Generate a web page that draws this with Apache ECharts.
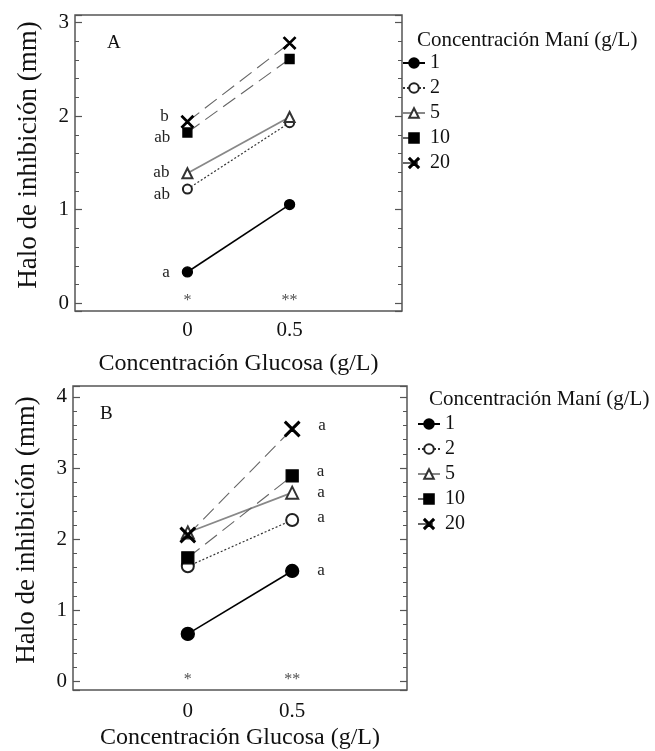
<!DOCTYPE html>
<html>
<head>
<meta charset="utf-8">
<script src="https://cdn.jsdelivr.net/npm/echarts@6/dist/echarts.min.js"></script>
<style>
  html, body { margin: 0; padding: 0; background: #fff; }
  #chart { width: 655px; height: 751px; }
</style>
</head>
<body>
<div id="chart"></div>
<script>
// glucosa (g/L) en el eje x
const glucosa = [0, 0.5]
// concentraciones de maní (g/L) -> nombres de serie
const mani = ['1', '2', '5', '10', '20']

// panel A: halo de inhibición (mm)
const haloA_1 = [0.335, 1.055]
const haloA_2 = [1.22, 1.93]
const haloA_5 = [1.39, 1.99]
const haloA_10 = [1.825, 2.61]
const haloA_20 = [1.94, 2.78]
const letrasA = ['a', 'ab', 'ab', 'ab', 'b'] // en glucosa 0

// panel B
const haloB_1 = [0.67, 1.555]
const haloB_2 = [1.62, 2.27]
const haloB_5 = [2.095, 2.655]
const haloB_10 = [1.74, 2.89]
const haloB_20 = [2.06, 3.55]
const letrasB = ['a', 'a', 'a', 'a', 'a'] // en glucosa 0.5

const estrellas = ['*', '**']
const yTicksA = [0, 1, 2, 3]
const yTicksB = [0, 1, 2, 3, 4]

// desplazamiento vertical de las letras para que no se encimen
const offsetA = [1, 5, -1, 5, -5]
const offsetB = [0, -3, 0, -4, -3]

const SERIF = 'Liberation Serif, Times New Roman, serif'
const X_PATH = 'path://M0,0.8L0.8,0L5,4.2L9.2,0L10,0.8L5.8,5L10,9.2L9.2,10L5,5.8L0.8,10L0,9.2L4.2,5Z'

// estilo de cada serie (marcador + línea)
const estilos = [
	{ symbol: 'circle', color: '#000', line: { color: '#000', width: 1.6, type: 'solid' } },
	{ symbol: 'emptyCircle', color: '#222', line: { color: '#333', width: 1.2, type: [2, 2] } },
	{ symbol: 'emptyTriangle', color: '#333', line: { color: '#888', width: 1.8, type: 'solid' } },
	{ symbol: 'rect', color: '#000', line: { color: '#666', width: 1.1, type: [15, 7] } },
	{ symbol: X_PATH, color: '#000', line: { color: '#666', width: 1.1, type: [15, 7] } }
]

function makeSeries(valores, idx, panel, letras) {
	const est = estilos[idx]
	const big = panel === 'B'
	const sizes = big ? [13, 12, 12, 12, 15] : [10, 9, 10, 9, 12]
	const data = glucosa.map(function (g, i) {
		const item = { value: [g, valores[i]] }
		const showLeft = panel === 'A' && i === 0
		const showRight = panel === 'B' && i === 1
		if (showLeft || showRight) {
			item.label = {
				show: true,
				formatter: letras[idx],
				position: showLeft ? 'left' : 'right',
				distance: showLeft ? 12 : 18,
				offset: [0, showLeft ? offsetA[idx] : offsetB[idx]],
				color: '#222',
				fontFamily: SERIF,
				fontSize: 17
			}
		}
		return item
	})
	return {
		name: mani[idx],
		type: 'line',
		xAxisIndex: panel === 'A' ? 0 : 1,
		yAxisIndex: panel === 'A' ? 0 : 2,
		symbol: est.symbol,
		symbolSize: sizes[idx],
		showAllSymbol: true,
		itemStyle: { color: est.color, borderColor: est.color, borderWidth: 1.3 },
		lineStyle: est.line,
		data: data,
		z: 3 + idx,
		animation: false
	}
}

function starSeries(panel, yPos) {
	return {
		type: 'scatter',
		xAxisIndex: panel === 'A' ? 0 : 1,
		yAxisIndex: panel === 'A' ? 0 : 2,
		symbolSize: 0,
		silent: true,
		data: glucosa.map(function (g, i) {
			return {
				value: [g, yPos],
				label: { show: true, position: 'inside', formatter: estrellas[i], color: '#222', fontFamily: SERIF, fontSize: 16 }
			}
		}),
		animation: false
	}
}

function xAxisCfg(grid, margin, gap) {
	return {
		type: 'value',
		gridIndex: grid,
		min: -0.55,
		max: 1.05,
		minInterval: 0.5,
		maxInterval: 0.5,
		splitLine: { show: false },
		axisLine: { show: false, onZero: false },
		axisTick: { show: false },
		axisLabel: {
			margin: margin,
			color: '#111',
			fontFamily: SERIF,
			fontSize: 21,
			formatter: function (v) {
				if (Math.abs(v) < 1e-6) return '0'
				if (Math.abs(v - 0.5) < 1e-6) return '0.5'
				return ''
			}
		},
		name: 'Concentración Glucosa (g/L)',
		nameLocation: 'middle',
		nameGap: gap,
		nameTextStyle: { color: '#111', fontFamily: SERIF, fontSize: 24 }
	}
}

function yAxisCfg(grid, min, max, ticks, right) {
	return {
		type: 'value',
		gridIndex: grid,
		position: right ? 'right' : 'left',
		min: min,
		max: max,
		minInterval: 1,
		maxInterval: 1,
		splitLine: { show: false },
		axisLine: { show: false, onZero: false },
		axisTick: { show: true, inside: true, length: 7, lineStyle: { color: '#555', width: 1.2 } },
		minorTick: { show: true, splitNumber: 5, length: 4, lineStyle: { color: '#555', width: 1 } },
		axisLabel: {
			show: !right,
			margin: 6,
			color: '#111',
			fontFamily: SERIF,
			fontSize: 21,
			formatter: function (v) { return ticks.indexOf(Math.round(v)) >= 0 ? String(Math.round(v)) : '' }
		},
		name: right ? '' : 'Halo de inhibición (mm)',
		nameLocation: 'middle',
		nameGap: 33,
		nameTextStyle: { color: '#111', fontFamily: SERIF, fontSize: 27, padding: [0, 0, 0, 16] }
	}
}

function legendCfg(left, top) {
	return {
		orient: 'vertical',
		left: left,
		top: top,
		data: mani,
		itemWidth: 22,
		itemHeight: 12,
		itemGap: 5,
		selectedMode: false,
		textStyle: { color: '#111', fontFamily: SERIF, fontSize: 20, padding: [0, 0, 0, 0] }
	}
}

const chart = echarts.init(document.getElementById('chart'), null, { renderer: 'canvas' })

const tituloEstilo = { fontFamily: SERIF, fontSize: 21, fontWeight: 'normal', color: '#111' }
const letraEstilo = { fontFamily: SERIF, fontSize: 19, fontWeight: 'normal', color: '#111' }

const option = {
	backgroundColor: '#fff',
	animation: false,
	title: [
		{ text: 'A', left: 102, top: 29, textStyle: letraEstilo },
		{ text: 'B', left: 95, top: 400, textStyle: letraEstilo },
		{ text: 'Concentración Maní (g/L)', left: 412, top: 25, textStyle: tituloEstilo },
		{ text: 'Concentración Maní (g/L)', left: 424, top: 384, textStyle: tituloEstilo }
	],
	legend: [legendCfg(397, 48), legendCfg(412, 409)],
	grid: [
		{ left: 75, top: 15, width: 327, height: 296, show: true, borderColor: '#555', borderWidth: 1.5, backgroundColor: 'transparent' },
		{ left: 73, top: 386, width: 334, height: 305, show: true, borderColor: '#555', borderWidth: 1.5, backgroundColor: 'transparent' }
	],
	xAxis: [xAxisCfg(0, 9, 41), xAxisCfg(1, 11, 36)],
	yAxis: [
		yAxisCfg(0, -0.082, 3.08, yTicksA, false),
		yAxisCfg(0, -0.082, 3.08, yTicksA, true),
		yAxisCfg(1, -0.118, 4.154, yTicksB, false),
		yAxisCfg(1, -0.118, 4.154, yTicksB, true)
	],
	series: [
		makeSeries(haloA_1, 0, 'A', letrasA),
		makeSeries(haloA_2, 1, 'A', letrasA),
		makeSeries(haloA_5, 2, 'A', letrasA),
		makeSeries(haloA_10, 3, 'A', letrasA),
		makeSeries(haloA_20, 4, 'A', letrasA),
		makeSeries(haloB_1, 0, 'B', letrasB),
		makeSeries(haloB_2, 1, 'B', letrasB),
		makeSeries(haloB_5, 2, 'B', letrasB),
		makeSeries(haloB_10, 3, 'B', letrasB),
		makeSeries(haloB_20, 4, 'B', letrasB),
		starSeries('A', 0.03),
		starSeries('B', 0.02)
	]
}
chart.setOption(option)
</script>
</body>
</html>
